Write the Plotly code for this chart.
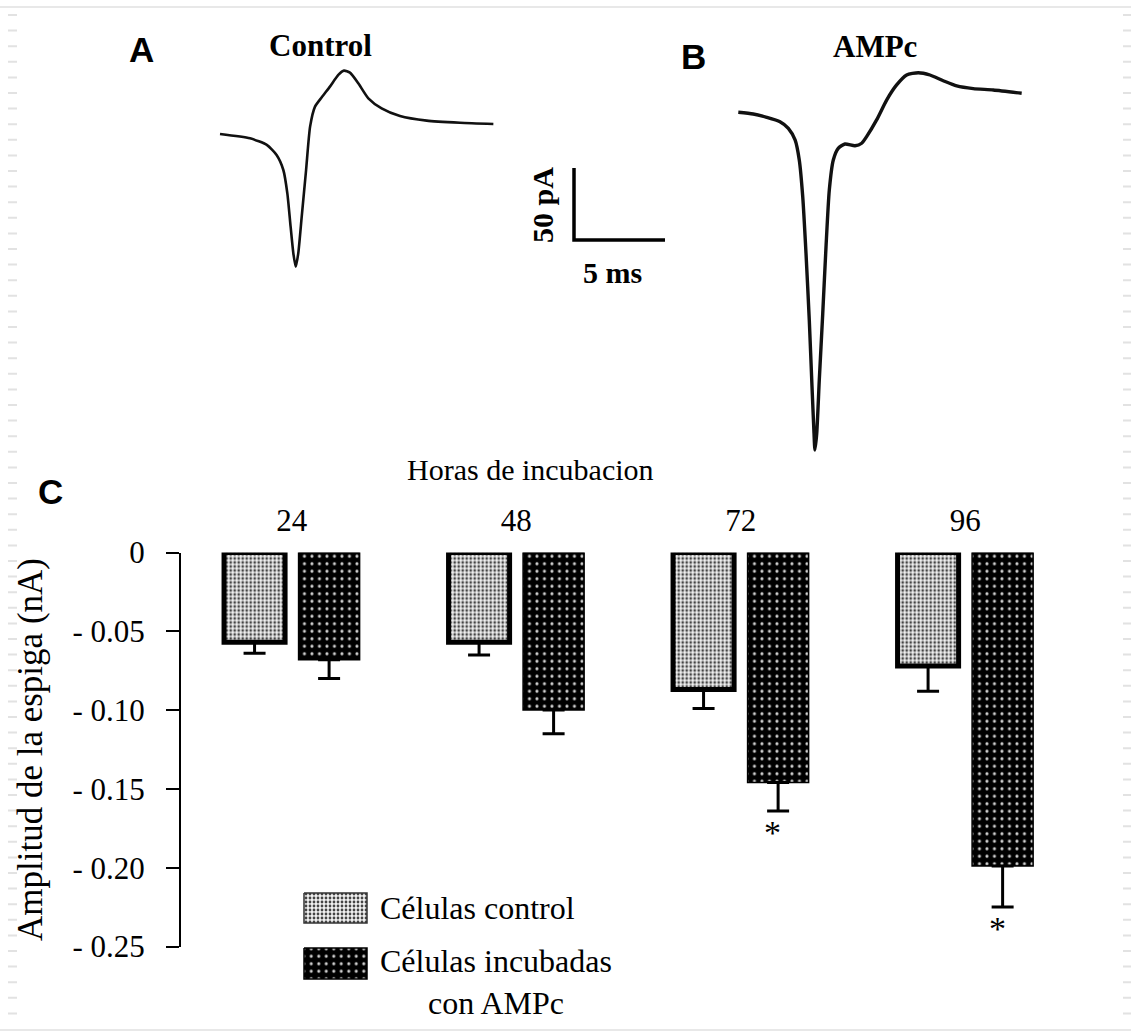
import plotly.graph_objects as go

W, H = 1131, 1034

# ---------------- data ----------------
hours = ["24", "48", "72", "96"]
control_mean = [-0.057, -0.057, -0.087, -0.072]
control_sem = [0.007, 0.008, 0.012, 0.016]
ampc_mean = [-0.068, -0.100, -0.146, -0.199]
ampc_sem = [0.012, 0.015, 0.018, 0.026]
significant = [False, False, True, True]

y_tickvals = [0, -0.05, -0.10, -0.15, -0.20, -0.25]
y_ticktext = ["0", "- 0.05", "- 0.10", "- 0.15", "- 0.20", "- 0.25"]

# example spike currents: time (ms) and current (pA) relative to trace start
ctrl_t = [0.0, 1.65, 2.57, 3.11, 3.48, 3.70, 3.88, 4.03, 4.16, 4.30, 4.49, 4.73,
          4.95, 5.22, 5.59, 6.04, 6.50, 6.81, 7.14, 7.60, 8.15, 8.88, 9.89,
          11.36, 13.19, 15.02]
ctrl_i = [0.0, -3.0, -7.6, -14.6, -25.0, -41.2, -64.4, -82.9, -92.2, -82.9, -57.4,
          -25.0, 5.1, 19.0, 25.5, 32.9, 41.0, 44.0, 42.6, 35.2, 24.8, 17.8, 12.5,
          9.3, 7.8, 6.9]
ampc_t = [0.0, 0.82, 1.56, 2.29, 2.75, 3.12, 3.35, 3.54, 3.72, 3.90, 4.05, 4.16,
          4.21, 4.31, 4.45, 4.64, 4.82, 5.00, 5.22, 5.49, 5.86, 6.41, 6.78, 7.05,
          7.60, 8.15, 8.70, 9.25, 9.89, 10.53, 11.26, 12.00, 12.91, 14.01, 15.57]
ampc_i = [0.0, -1.2, -3.5, -6.5, -11.1, -19.2, -33.1, -58.6, -97.9, -144.2, -190.6,
          -222.9, -234.5, -222.9, -185.9, -139.6, -93.3, -54.0, -33.1, -25.0, -22.0,
          -23.2, -21.5, -16.9, -5.3, 8.5, 19.0, 25.9, 27.5, 25.9, 21.9, 18.3, 16.4,
          15.5, 13.2]
scale_ms = 5
scale_pa = 50

# ---------------- helpers (layout positions in pixels) ----------------
def px(x):
    return x / W


def py(y):
    return 1 - y / H


PX_PER_MS = 18.2
PX_PER_PA = 1.44
A_ORIGIN = (220, 134)
B_ORIGIN = (738.3, 112.3)
SCALE_CORNER = (574, 240)


def trace_ranges(origin):
    x0, y0 = origin
    xr = [-x0 / PX_PER_MS, (W - x0) / PX_PER_MS]
    yr = [-(H - y0) / PX_PER_PA, y0 / PX_PER_PA]
    return xr, yr


SERIF = "Liberation Serif"
SANS = "Liberation Sans"

fig = go.Figure()

pat_ctrl = dict(shape=".", size=4, solidity=0.38, fgcolor="#444444",
                bgcolor="#f2f2f2", fillmode="replace")
pat_ampc = dict(shape=".", size=7.5, solidity=0.13, fgcolor="#d0d0d0",
                bgcolor="#000000", fillmode="replace")

fig.add_bar(
    x=hours, y=control_mean, name="Células control",
    marker=dict(color="#bdbdbd", pattern=pat_ctrl, line=dict(color="black", width=5)),
    error_y=dict(type="data", symmetric=False, array=[0] * len(hours),
                 arrayminus=control_sem, color="black", thickness=3, width=11),
    xaxis="x", yaxis="y", hoverinfo="skip",
)
fig.add_bar(
    x=hours, y=ampc_mean, name="Células incubadas con AMPc",
    marker=dict(color="#111111", pattern=pat_ampc, line=dict(color="black", width=1.5)),
    error_y=dict(type="data", symmetric=False, array=[0] * len(hours),
                 arrayminus=ampc_sem, color="black", thickness=3, width=11),
    xaxis="x", yaxis="y", hoverinfo="skip",
)

# spike traces
fig.add_scatter(x=ctrl_t, y=ctrl_i, mode="lines",
                line=dict(color="#111111", width=2.6, shape="spline", smoothing=0.6),
                xaxis="x2", yaxis="y2", hoverinfo="skip")
fig.add_scatter(x=ampc_t, y=ampc_i, mode="lines",
                line=dict(color="#111111", width=3.4, shape="spline", smoothing=0.6),
                xaxis="x3", yaxis="y3", hoverinfo="skip")

# legend keys (pixel overlay axes)
def key_box(x0, y0, x1, y1):
    return [x0, x1, x1, x0, x0], [y0, y0, y1, y1, y0]


kx, ky = key_box(304, 893, 367, 923)
fig.add_scatter(x=kx, y=ky, mode="lines", fill="toself", fillpattern=pat_ctrl,
                fillcolor="#f2f2f2", line=dict(color="#333333", width=1.5),
                xaxis="x4", yaxis="y4", hoverinfo="skip")
kx, ky = key_box(304, 948, 367, 979)
fig.add_scatter(x=kx, y=ky, mode="lines", fill="toself", fillpattern=pat_ampc,
                fillcolor="#000000", line=dict(color="#000000", width=1.5),
                xaxis="x4", yaxis="y4", hoverinfo="skip")

ax_r, ay_r = trace_ranges(A_ORIGIN)
bx_r, by_r = trace_ranges(B_ORIGIN)
hidden = dict(visible=False, showgrid=False, zeroline=False, fixedrange=True)

# scale bar in trace-A units
sc_t = (SCALE_CORNER[0] - A_ORIGIN[0]) / PX_PER_MS
sc_i = -(SCALE_CORNER[1] - A_ORIGIN[1]) / PX_PER_PA
scale_path = (f"M {sc_t},{sc_i + scale_pa} L {sc_t},{sc_i} "
              f"L {sc_t + scale_ms},{sc_i}")

shapes = [
    dict(type="path", xref="x2", yref="y2", path=scale_path,
         line=dict(color="black", width=3.5)),
    # faint page frame
    dict(type="line", xref="paper", yref="paper", x0=0, x1=1, y0=py(7), y1=py(7),
         line=dict(color="#e8e8e8", width=2)),
    dict(type="line", xref="paper", yref="paper", x0=0, x1=1, y0=py(1030), y1=py(1030),
         line=dict(color="#e8e8e8", width=2)),
    dict(type="line", xref="paper", yref="paper", x0=px(12.5), x1=px(12.5),
         y0=py(14), y1=py(1024),
         line=dict(color="#e2e2e2", width=9, dash="2px,13.6px")),
    dict(type="line", xref="paper", yref="paper", x0=px(1127.5), x1=px(1127.5),
         y0=py(14), y1=py(1024),
         line=dict(color="#e2e2e2", width=9, dash="2px,13.6px")),
]


def ann(text, x, y, size, family=SERIF, **kw):
    d = dict(text=text, x=px(x), y=py(y), xref="paper", yref="paper",
             showarrow=False, font=dict(family=family, size=size, color="black"),
             xanchor="center", yanchor="middle")
    d.update(kw)
    return d


annotations = [
    ann("<b>A</b>", 141, 49, 35, SANS),
    ann("<b>Control</b>", 320, 46, 31),
    ann("<b>B</b>", 693, 57, 35, SANS),
    ann("<b>AMPc</b>", 875, 47, 31),
    ann("<b>50 pA</b>", 542, 205, 30, textangle=-90),
    ann("<b>5 ms</b>", 612, 272, 30),
    ann("<b>C</b>", 50, 492, 35, SANS),
    ann("Horas de incubacion", 530, 469, 30),
    ann("Amplitud de la espiga (nA)", 30, 750, 35, textangle=-90),
    ann("Células control", 378, 908, 32, xanchor="left"),
    ann("Células incubadas<br>con AMPc", 378, 982, 32, xanchor="left", align="center"),
]

# significance marks below the AMPc error bars (x given as category index)
for idx, (m, e, s) in enumerate(zip(ampc_mean, ampc_sem, significant)):
    if s:
        annotations.append(dict(text="*", x=idx, y=m - e, xref="x", yref="y",
                                showarrow=False, xshift=32, yshift=-1,
                                xanchor="center", yanchor="top",
                                font=dict(family=SERIF, size=34, color="black")))

fig.update_layout(
    width=W, height=H,
    margin=dict(l=0, r=0, t=0, b=0),
    paper_bgcolor="white", plot_bgcolor="rgba(0,0,0,0)",
    font=dict(family=SERIF, color="black"),
    showlegend=False,
    barmode="group", bargap=0.336, bargroupgap=0.181,
    xaxis=dict(domain=[px(180.7), px(1077.6)], type="category",
               categoryorder="array", categoryarray=hours,
               range=[-0.495, 3.5], side="top", anchor="y",
               showline=False, showgrid=False, zeroline=False, ticks="",
               tickfont=dict(family=SERIF, size=31), ticklabelstandoff=14,
               automargin=False),
    yaxis=dict(domain=[py(946.5), py(552.5)], range=[-0.25, 0], anchor="x",
               showline=True, linecolor="black", linewidth=1.5,
               ticks="outside", ticklen=13, tickwidth=1.5, tickcolor="black",
               tickvals=y_tickvals, ticktext=y_ticktext,
               tickfont=dict(family=SERIF, size=31), ticklabelstandoff=15,
               showgrid=False, zeroline=False, automargin=False),
    xaxis2=dict(domain=[0, 1], range=ax_r, anchor="y2", **hidden),
    yaxis2=dict(domain=[0, 1], range=ay_r, anchor="x2", **hidden),
    xaxis3=dict(domain=[0, 1], range=bx_r, anchor="y3", **hidden),
    yaxis3=dict(domain=[0, 1], range=by_r, anchor="x3", **hidden),
    xaxis4=dict(domain=[0, 1], range=[0, W], anchor="y4", **hidden),
    yaxis4=dict(domain=[0, 1], range=[H, 0], anchor="x4", **hidden),
    shapes=shapes,
    annotations=annotations,
)

fig.write_html("out.html", config={"displayModeBar": False},
               post_script="document.body.style.margin='0px';")
